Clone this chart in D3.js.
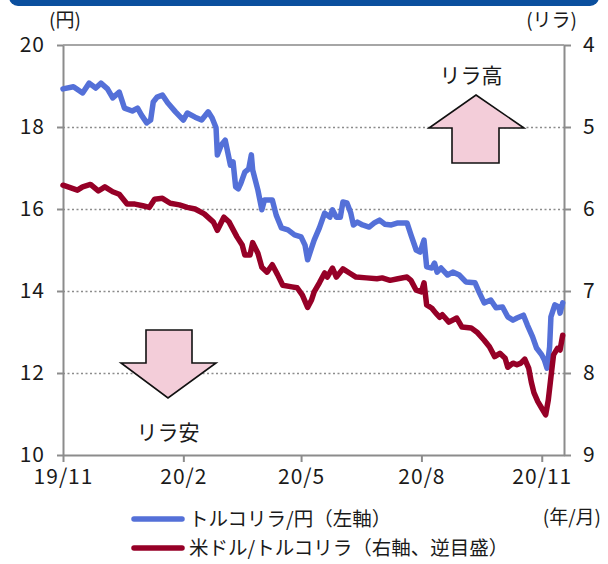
<!DOCTYPE html>
<html>
<head>
<meta charset="utf-8">
<script src="https://cdn.jsdelivr.net/npm/d3@7"></script>
<style>
  body { margin: 0; background: #fff; }
  svg text { font-family: "Noto Sans CJK JP", "Noto Sans", sans-serif; fill: #1a1a1a; }
</style>
</head>
<body>
<script>
// トルコリラ/円（左軸）
let turDates = ["2019-11-01","2019-11-09","2019-11-16","2019-11-21","2019-11-26","2019-11-30","2019-12-05","2019-12-09","2019-12-14","2019-12-18","2019-12-24","2019-12-28","2019-12-31",
  "2020-01-04","2020-01-07","2020-01-09","2020-01-12","2020-01-16","2020-01-20","2020-01-26","2020-02-01","2020-02-04","2020-02-10","2020-02-15","2020-02-20","2020-02-23","2020-02-26","2020-02-27",
  "2020-03-01","2020-03-04","2020-03-08","2020-03-10","2020-03-12","2020-03-14","2020-03-16","2020-03-19","2020-03-22","2020-03-24","2020-03-25","2020-03-29",
  "2020-04-01","2020-04-03","2020-04-09","2020-04-12","2020-04-16","2020-04-21","2020-04-26","2020-05-01","2020-05-04","2020-05-06","2020-05-09","2020-05-11","2020-05-15","2020-05-19","2020-05-23","2020-05-25","2020-05-28","2020-05-31",
  "2020-06-02","2020-06-05","2020-06-08","2020-06-10","2020-06-13","2020-06-17","2020-06-22","2020-06-26","2020-06-30","2020-07-04","2020-07-09","2020-07-14","2020-07-21","2020-07-24","2020-07-28","2020-07-31",
  "2020-08-03","2020-08-05","2020-08-09","2020-08-11","2020-08-13","2020-08-16","2020-08-21","2020-08-25","2020-08-30","2020-09-04","2020-09-11","2020-09-14","2020-09-18","2020-09-23","2020-09-27",
  "2020-10-02","2020-10-06","2020-10-10","2020-10-13","2020-10-18","2020-10-21","2020-10-25","2020-10-28","2020-11-01","2020-11-03","2020-11-05","2020-11-07","2020-11-08","2020-11-11","2020-11-14","2020-11-15","2020-11-17"];
let turJpy = [18.93,18.98,18.83,19.07,18.95,19.07,18.93,18.71,18.85,18.46,18.39,18.46,18.29,
  18.10,18.17,18.61,18.73,18.78,18.59,18.37,18.17,18.34,18.24,18.17,18.37,18.22,17.98,17.32,
  17.56,17.68,17.07,17.15,16.54,16.49,16.63,16.90,16.98,17.32,16.95,16.46,
  15.98,16.22,16.22,15.85,15.54,15.49,15.37,15.32,15.12,14.76,15.05,15.24,15.54,15.90,15.80,15.98,15.80,15.80,
  16.17,16.15,15.90,15.61,15.68,15.61,15.56,15.66,15.73,15.63,15.61,15.66,15.66,15.37,15.00,14.95,
  15.24,14.59,14.56,14.68,14.46,14.56,14.39,14.46,14.39,14.22,14.20,13.98,13.71,13.78,13.59,
  13.61,13.37,13.29,13.34,13.41,13.17,12.88,12.61,12.44,12.32,12.12,12.63,13.37,13.66,13.61,13.46,13.71];

// 米ドル/トルコリラ（右軸、逆目盛）
let usdDates = ["2019-11-01","2019-11-12","2019-11-16","2019-11-22","2019-11-28","2019-12-03","2019-12-09","2019-12-14","2019-12-20","2019-12-26",
  "2020-01-01","2020-01-06","2020-01-10","2020-01-16","2020-01-22","2020-01-29","2020-02-04","2020-02-10","2020-02-17","2020-02-24","2020-02-27",
  "2020-03-03","2020-03-07","2020-03-13","2020-03-17","2020-03-19","2020-03-23","2020-03-25","2020-03-29","2020-04-01","2020-04-05","2020-04-09","2020-04-13","2020-04-17","2020-04-24","2020-04-28",
  "2020-05-02","2020-05-06","2020-05-09","2020-05-11","2020-05-15","2020-05-19","2020-05-21","2020-05-25","2020-05-28","2020-06-02","2020-06-07","2020-06-12","2020-06-20","2020-06-28",
  "2020-07-02","2020-07-08","2020-07-14","2020-07-21","2020-07-24","2020-07-28","2020-08-01","2020-08-03","2020-08-05","2020-08-09","2020-08-12","2020-08-15","2020-08-17","2020-08-22","2020-08-28",
  "2020-09-01","2020-09-08","2020-09-13","2020-09-18","2020-09-22","2020-09-26","2020-09-30","2020-10-04","2020-10-06","2020-10-10","2020-10-13","2020-10-16","2020-10-19","2020-10-22","2020-10-24","2020-10-26","2020-10-29",
  "2020-11-01","2020-11-04","2020-11-06","2020-11-08","2020-11-10","2020-11-13","2020-11-15","2020-11-17"];
let usdTry = [5.71,5.77,5.73,5.70,5.78,5.73,5.79,5.82,5.94,5.94,
  5.96,5.98,5.88,5.87,5.93,5.95,5.98,6.00,6.06,6.16,6.26,
  6.10,6.16,6.34,6.44,6.56,6.56,6.41,6.54,6.71,6.77,6.68,6.80,6.93,6.95,6.96,
  7.05,7.20,7.11,7.01,6.90,6.78,6.83,6.72,6.83,6.73,6.78,6.83,6.84,6.85,
  6.84,6.87,6.85,6.83,6.87,6.99,7.01,6.90,7.17,7.21,7.27,7.32,7.29,7.38,7.33,
  7.44,7.45,7.51,7.60,7.68,7.80,7.76,7.82,7.93,7.88,7.90,7.88,7.83,7.94,8.11,8.24,8.35,
  8.43,8.51,8.33,8.05,7.78,7.70,7.72,7.54];

let leftTicks = [10, 12, 14, 16, 18, 20];
let rightTicks = [4, 5, 6, 7, 8, 9];
let monthTicks = ["2019-11-01", "2020-02-01", "2020-05-01", "2020-08-01", "2020-11-01"];

let parse = d3.timeParse("%Y-%m-%d");
let tur = turDates.map((d, i) => ({ date: parse(d), v: turJpy[i] }));
let usd = usdDates.map((d, i) => ({ date: parse(d), v: usdTry[i] }));

let W = 608, H = 564;
let mLeft = 63, mRight = 564, mTop = 45, mBottom = 455;

let svg = d3.select("body").append("svg").attr("width", W).attr("height", H);

// 上の帯
svg.append("rect").attr("x", 9).attr("y", -20).attr("width", 590).attr("height", 26)
  .attr("rx", 9).attr("fill", "#0b4f9e");

let x = d3.scaleTime().domain([parse("2019-11-01"), parse("2020-11-18")]).range([mLeft, mRight]);
let yL = d3.scaleLinear().domain([10, 20]).range([mBottom, mTop]);
let yR = d3.scaleLinear().domain([4, 9]).range([mTop, mBottom]); // 逆目盛

// グリッド（点線）
svg.append("g").attr("transform", `translate(${mLeft},0)`)
  .call(d3.axisLeft(yL).tickValues([12, 14, 16, 18]).tickSize(-(mRight - mLeft)).tickFormat(""))
  .call(g => g.select(".domain").remove())
  .selectAll("line").attr("stroke", "#8c8c8c").attr("stroke-width", 1.6).attr("stroke-dasharray", "2,2.5");
// 20 の線
svg.append("line").attr("x1", mLeft).attr("x2", mRight).attr("y1", yL(20)).attr("y2", yL(20))
  .attr("stroke", "#a6a6a6").attr("stroke-width", 2);

function styleAxis(g) {
  g.select(".domain").attr("stroke", "#8c8c8c").attr("stroke-width", 2);
  g.selectAll(".tick line").attr("stroke", "#8c8c8c").attr("stroke-width", 2);
  g.selectAll("text").attr("font-size", 21).attr("letter-spacing", 1).attr("fill", "#1a1a1a");
}

svg.append("g").attr("transform", `translate(${mLeft},0)`)
  .call(d3.axisLeft(yL).tickValues(leftTicks).tickSize(6).tickSizeOuter(0).tickPadding(12))
  .call(styleAxis);

svg.append("g").attr("transform", `translate(${mRight},0)`)
  .call(d3.axisRight(yR).tickValues(rightTicks).tickFormat(d3.format("d")).tickSize(7).tickSizeOuter(0).tickPadding(12))
  .call(styleAxis);

svg.append("g").attr("transform", `translate(0,${mBottom})`)
  .call(d3.axisBottom(x).tickValues(monthTicks.map(parse)).tickFormat(d3.timeFormat("%y/%-m"))
    .tickSize(7).tickSizeOuter(0).tickPadding(7))
  .call(styleAxis);

// 系列
svg.append("path").datum(tur)
  .attr("d", d3.line().x(d => x(d.date)).y(d => yL(d.v)))
  .attr("fill", "none").attr("stroke", "#5470d8").attr("stroke-width", 5.5)
  .attr("stroke-linejoin", "round").attr("stroke-linecap", "round");
svg.append("path").datum(usd)
  .attr("d", d3.line().x(d => x(d.date)).y(d => yR(d.v)))
  .attr("fill", "none").attr("stroke", "#960027").attr("stroke-width", 5.5)
  .attr("stroke-linejoin", "round").attr("stroke-linecap", "round");

// 単位
svg.append("text").attr("x", 49).attr("y", 27).attr("font-size", 19).text("(円)");
svg.append("text").attr("x", 577).attr("y", 27).attr("font-size", 19).attr("text-anchor", "end").text("(リラ)");
svg.append("text").attr("x", 601).attr("y", 524).attr("font-size", 19).attr("text-anchor", "end").text("(年/月)");

// 矢印
let arrowUp = [[476, 95], [524, 128], [499, 128], [499, 163], [452, 163], [452, 128], [429, 128]];
let arrowDown = [[146, 330], [192, 330], [192, 363], [216, 363], [168, 398], [121, 363], [146, 363]];
[arrowUp, arrowDown].forEach(p => {
  svg.append("polygon").attr("points", p.map(q => q.join(",")).join(" "))
    .attr("fill", "#f3cdd9").attr("stroke", "#111").attr("stroke-width", 1.6)
    .attr("stroke-linejoin", "miter");
});
svg.append("text").attr("x", 471).attr("y", 83).attr("font-size", 21).attr("text-anchor", "middle").text("リラ高");
svg.append("text").attr("x", 168).attr("y", 440).attr("font-size", 21).attr("text-anchor", "middle").text("リラ安");

// 凡例
let legend = [
  { label: "トルコリラ/円（左軸）", color: "#5470d8", y: 519 },
  { label: "米ドル/トルコリラ（右軸、逆目盛）", color: "#960027", y: 548 }
];
legend.forEach(l => {
  svg.append("line").attr("x1", 134).attr("x2", 182).attr("y1", l.y).attr("y2", l.y)
    .attr("stroke", l.color).attr("stroke-width", 5.5).attr("stroke-linecap", "round");
  svg.append("text").attr("x", 189).attr("y", l.y + 7).attr("font-size", 19.5).text(l.label);
});
</script>
</body>
</html>
